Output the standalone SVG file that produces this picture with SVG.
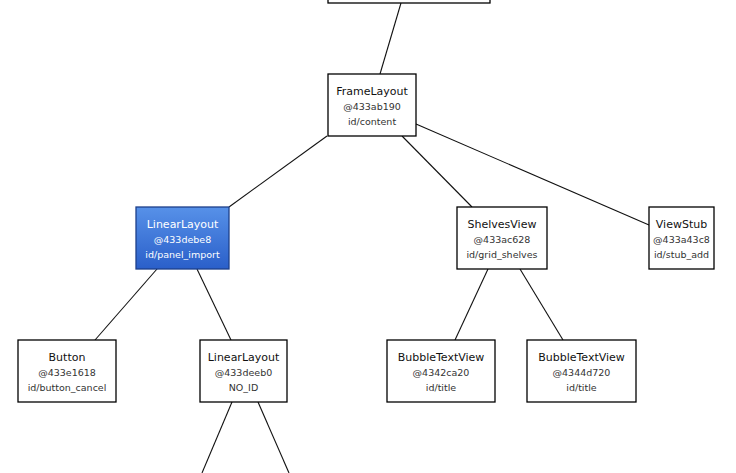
<svg xmlns="http://www.w3.org/2000/svg" width="736" height="473" viewBox="0 0 736 473">
<defs>
<linearGradient id="sel" x1="0" y1="0" x2="0" y2="1">
<stop offset="0" stop-color="#5791e8"/>
<stop offset="1" stop-color="#2a5fc9"/>
</linearGradient>
<style>
.box{fill:#fff;stroke:#000;stroke-width:1.3}
.selbox{fill:url(#sel);stroke:#1d3f8a;stroke-width:1.3}
.t{font-family:"DejaVu Sans","Open Sans",sans-serif;font-size:11px;fill:#111;text-anchor:middle}
.s{font-family:"DejaVu Sans","Open Sans",sans-serif;font-size:9.5px;fill:#333;text-anchor:middle}
.w{fill:#fff}
.edges line{stroke:#111;stroke-width:1.1}
</style>
</defs>
<rect width="736" height="473" fill="#fff"/>
<g class="edges" id="connectors">
<line x1="401" y1="3" x2="380" y2="74"/>
<line x1="327" y1="136" x2="229" y2="207"/>
<line x1="402" y1="136" x2="472" y2="207"/>
<line x1="416" y1="124" x2="649" y2="225"/>
<line x1="157" y1="269" x2="95" y2="340"/>
<line x1="197" y1="269" x2="231" y2="340"/>
<line x1="488" y1="269" x2="455" y2="340"/>
<line x1="520" y1="269" x2="563" y2="340"/>
<line x1="232" y1="402" x2="202" y2="473"/>
<line x1="258" y1="402" x2="289" y2="473"/>
</g>
<g id="root">
<rect class="box" x="328" y="-60" width="162" height="63"/>
</g>
<g id="frameLayout">
<rect class="box" x="328" y="74" width="88" height="62"/>
<text class="t" x="372" y="94.5">FrameLayout</text>
<text class="s" x="372" y="110">@433ab190</text>
<text class="s" x="372" y="125">id/content</text>
</g>
<g id="linearLayoutImport">
<rect class="selbox" x="136" y="207" width="93" height="62"/>
<text class="t w" x="182.5" y="227.5">LinearLayout</text>
<text class="s w" x="182.5" y="243">@433debe8</text>
<text class="s w" x="182.5" y="258">id/panel_import</text>
</g>
<g id="shelvesView">
<rect class="box" x="457" y="207" width="90" height="62"/>
<text class="t" x="502" y="227.5">ShelvesView</text>
<text class="s" x="502" y="243">@433ac628</text>
<text class="s" x="502" y="258">id/grid_shelves</text>
</g>
<g id="viewStub">
<rect class="box" x="649" y="207" width="65" height="62"/>
<text class="t" x="681.5" y="227.5">ViewStub</text>
<text class="s" x="681.5" y="243">@433a43c8</text>
<text class="s" x="681.5" y="258">id/stub_add</text>
</g>
<g id="button">
<rect class="box" x="18" y="340" width="98" height="62"/>
<text class="t" x="67" y="360.5">Button</text>
<text class="s" x="67" y="376">@433e1618</text>
<text class="s" x="67" y="391">id/button_cancel</text>
</g>
<g id="linearLayoutNoId">
<rect class="box" x="200" y="340" width="87" height="62"/>
<text class="t" x="243.5" y="360.5">LinearLayout</text>
<text class="s" x="243.5" y="376">@433deeb0</text>
<text class="s" x="243.5" y="391">NO_ID</text>
</g>
<g id="bubble1">
<rect class="box" x="387" y="340" width="108" height="62"/>
<text class="t" x="441" y="360.5">BubbleTextView</text>
<text class="s" x="441" y="376">@4342ca20</text>
<text class="s" x="441" y="391">id/title</text>
</g>
<g id="bubble2">
<rect class="box" x="527" y="340" width="109" height="62"/>
<text class="t" x="581.5" y="360.5">BubbleTextView</text>
<text class="s" x="581.5" y="376">@4344d720</text>
<text class="s" x="581.5" y="391">id/title</text>
</g>
</svg>
